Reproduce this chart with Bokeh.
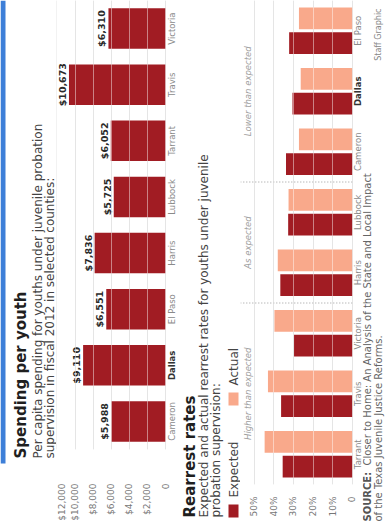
import math
from bokeh.plotting import figure
from bokeh.models import (ColumnDataSource, Range1d, FactorRange, FixedTicker,
                          NumeralTickFormatter, PrintfTickFormatter, Grid)
from bokeh.layouts import row
from bokeh.transform import dodge
from bokeh.core.properties import value
from bokeh.embed import file_html
from bokeh.resources import INLINE

W, H = 386, 524
DARK = "#a11c23"
SALMON = "#f9a98b"
FONT = "DejaVu Sans"
UP = math.pi / 2

# ---- data ----
spend_counties = ["Cameron", "Dallas", "El Paso", "Harris", "Lubbock", "Tarrant", "Travis", "Victoria"]
spend_values = [5988, 9110, 6551, 7836, 5725, 6052, 10673, 6310]
spend_ticks = [0, 2000, 4000, 6000, 8000, 10000, 12000]

rr_counties = ["Tarrant", "Travis", "Victoria", "Harris", "Lubbock", "Cameron", "Dallas", "El Paso"]
rr_expected = [35.5, 36.3, 29.7, 36.7, 32.7, 33.8, 30.5, 32.2]
rr_actual = [44.7, 43.0, 39.7, 38.0, 32.5, 27.2, 26.3, 27.2]
rr_groups = ["Higher than expected", "Higher than expected", "Higher than expected",
             "As expected", "As expected",
             "Lower than expected", "Lower than expected", "Lower than expected"]
rr_ticks = [0, 10, 20, 30, 40, 50]
legend_labels = ["Expected", "Actual"]
legend_colors = [DARK, SALMON]
highlight = "Dallas"


def panel(x0, x1):
    """A plain text panel whose data space is the page's pixel grid."""
    p = figure(width=x1 - x0, height=H, x_range=Range1d(x0, x1), y_range=Range1d(H, 0),
               x_axis_location=None, y_axis_location=None, output_backend="svg",
               toolbar_location=None, min_border=0, outline_line_color=None,
               background_fill_color="white", border_fill_color="white", frame_align=False)
    p.grid.visible = False
    return p


def vtext(p, text, x, y, size, color, style="normal", align="left"):
    p.text(x=[x], y=[y], text=[text], angle=UP, text_align=align, text_baseline="middle",
           text_font=value(FONT), text_font_size=size, text_font_style=style, text_color=color)


def style_chart(p, ticks, formatter, standoff):
    xa = p.xaxis[0]
    xa.ticker = FixedTicker(ticks=ticks)
    xa.formatter = formatter
    xa.major_label_overrides = {0: "0"}
    xa.major_label_orientation = UP
    xa.major_label_standoff = standoff
    xa.axis_line_color = None
    xa.major_tick_line_color = None
    xa.minor_tick_line_color = None
    xa.major_label_text_font = FONT
    xa.major_label_text_font_size = "9px"
    xa.major_label_text_color = "#777777"
    p.xgrid.ticker = FixedTicker(ticks=ticks)
    p.xgrid.grid_line_color = "#cfcfcf"
    p.ygrid.grid_line_color = None
    p.add_layout(Grid(dimension=0, ticker=FixedTicker(ticks=ticks), grid_line_color="white",
                      grid_line_alpha=0.45, level="overlay"))


def county_labels(p, counties, xpos):
    styles = ["bold" if c == highlight else "normal" for c in counties]
    colors = ["#333333" if c == highlight else "#8a8a8a" for c in counties]
    src = ColumnDataSource(dict(county=counties, st=styles, col=colors))
    p.text(x=xpos, y="county", text="county", source=src, angle=UP, text_align="center",
           text_baseline="middle", text_font=value(FONT), text_font_size="8.5px",
           text_font_style="st", text_color="col")


# ---- header panel for chart 1 ----
h1 = panel(0, 56)
h1.quad(left=[0], right=[5], top=[0], bottom=[463], fill_color="#3d7fd8", line_color=None)
vtext(h1, "Spending per youth", 20, 458, "15px", "#1f1f1f", "bold")
vtext(h1, "Per capita spending for youths under juvenile probation", 37.5, 458, "12px", "#444444")
vtext(h1, "supervision in fiscal 2012 in selected counties:", 49, 458, "12px", "#444444")

# ---- chart 1: spending per youth ----
p1 = figure(width=122, height=H, x_range=Range1d(12050, -1430), y_range=FactorRange(factors=spend_counties),
            y_axis_location=None, output_backend="svg", toolbar_location=None,
            min_border_left=0, min_border_right=0, min_border_top=0, min_border_bottom=75,
            outline_line_color=None, background_fill_color="white", border_fill_color="white",
            frame_align=False)
src1 = ColumnDataSource(dict(county=spend_counties, value=spend_values,
                             label=[f"${v:,}" for v in spend_values]))
p1.hbar(y="county", left=0, right="value", height=0.72, source=src1, fill_color=DARK, line_color=None)
p1.text(x="value", y="county", text="label", source=src1, angle=UP, text_align="center",
        text_baseline="bottom", x_offset=-1, text_font=value(FONT), text_font_style="bold",
        text_font_size="9.5px", text_color="#2a2a2a")
style_chart(p1, spend_ticks, NumeralTickFormatter(format="$0,0"), 28)
county_labels(p1, spend_counties, -700)

# ---- header panel for chart 2 ----
h2 = panel(178, 240)
vtext(h2, "Rearrest rates", 189, 517, "15px", "#1f1f1f", "bold")
vtext(h2, "Expected and actual rearrest rates for youths under juvenile", 203, 517, "12px", "#444444")
vtext(h2, "probation supervision:", 215, 517, "12px", "#444444")
leg_y = [517, 405]
h2.quad(left=[228] * 2, right=[238] * 2, bottom=leg_y, top=[y - 13 for y in leg_y],
        fill_color=legend_colors, line_color=None)
h2.text(x=[233] * 2, y=[y - 20 for y in leg_y], text=legend_labels, angle=UP, text_align="left",
        text_baseline="middle", text_font=value(FONT), text_font_size="12px", text_color="#444444")

# ---- chart 2: rearrest rates ----
p2 = figure(width=122, height=H, x_range=Range1d(57, -5.2), y_range=FactorRange(factors=rr_counties),
            y_axis_location=None, output_backend="svg", toolbar_location=None,
            min_border_left=0, min_border_right=0, min_border_top=0, min_border_bottom=40,
            outline_line_color=None, background_fill_color="white", border_fill_color="white",
            frame_align=False)
src2 = ColumnDataSource(dict(county=rr_counties, expected=rr_expected, actual=rr_actual))
p2.hbar(y=dodge("county", -0.205, range=p2.y_range), left=0, right="expected", height=0.36,
        source=src2, fill_color=DARK, line_color=None)
p2.hbar(y=dodge("county", 0.205, range=p2.y_range), left=0, right="actual", height=0.36,
        source=src2, fill_color=SALMON, line_color=None)
style_chart(p2, rr_ticks, PrintfTickFormatter(format="%d%%"), 6)
county_labels(p2, rr_counties, -2.7)

seps = [i for i in range(1, len(rr_groups)) if rr_groups[i] != rr_groups[i - 1]]
p2.segment(x0=[0] * len(seps), x1=[57] * len(seps), y0=seps, y1=seps,
           line_color="#9a9a9a", line_dash="1 2", line_width=1)
names, centers = [], []
for g in dict.fromkeys(rr_groups):
    idx = [i for i, gg in enumerate(rr_groups) if gg == g]
    names.append(g)
    centers.append(sum(i + 0.5 for i in idx) / len(idx))
p2.text(x=[53] * len(names), y=centers, text=names, angle=UP, text_align="center",
        text_baseline="middle", text_font=value(FONT), text_font_style="italic",
        text_font_size="8.5px", text_color="#a0a0a0")

# ---- source panel ----
h3 = panel(362, 386)
vtext(h3, "SOURCE:", 367, 521, "10px", "#555555", "bold")
vtext(h3, "Closer to Home: An Analysis of the State and Local Impact", 367, 465, "10px", "#666666")
vtext(h3, "of the Texas Juvenile Justice Reforms.", 378, 521, "10px", "#666666")
vtext(h3, "Staff Graphic", 378, 8, "8px", "#888888", align="right")

layout = row(h1, p1, h2, p2, h3, spacing=0)
open("out.html", "w").write(file_html(layout, INLINE))
